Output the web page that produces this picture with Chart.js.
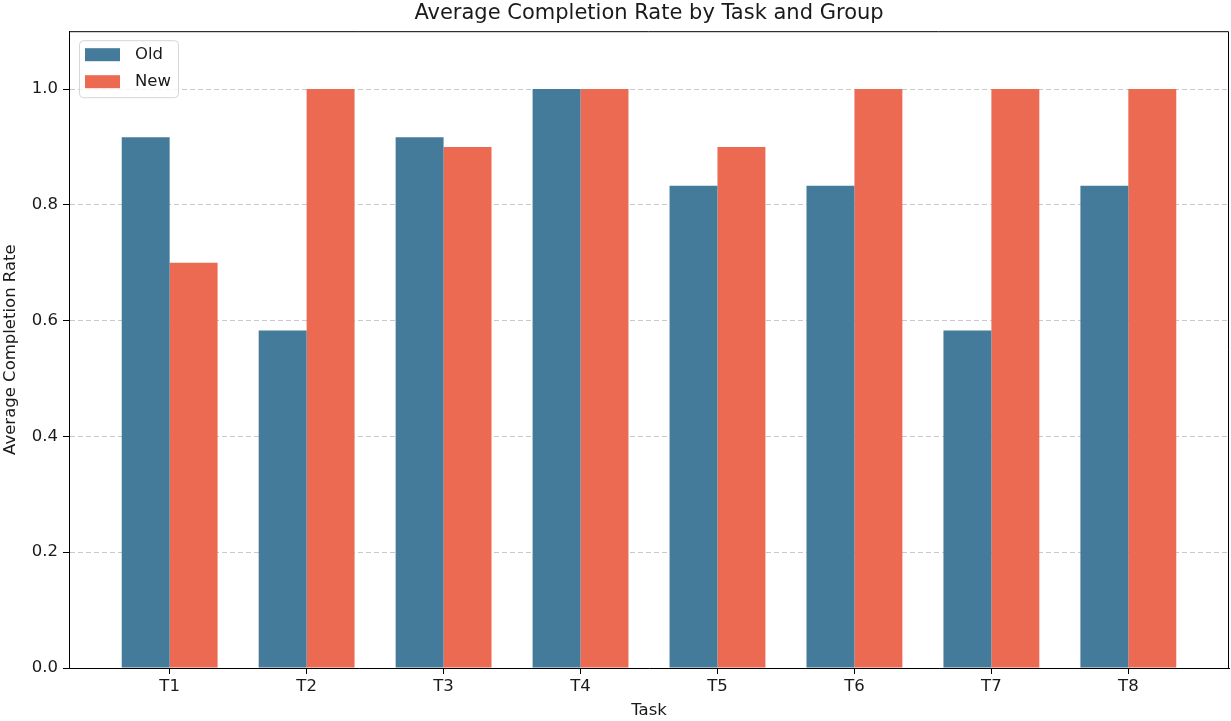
<!DOCTYPE html>
<html lang="en">
<head>
    <meta charset="UTF-8">
    <title>Average Completion Rate by Task and Group</title>
    <script src="https://cdn.jsdelivr.net/npm/chart.js"></script>
    <style>
        html, body {
            margin: 0;
            padding: 0;
            background: #fff;
        }
        #wrap {
            width: 1231px;
            height: 721px;
        }
    </style>
</head>
<body>
    <div id="wrap"><canvas id="rateChart"></canvas></div>

    <script>
        // data
        const tasks = ['T1', 'T2', 'T3', 'T4', 'T5', 'T6', 'T7', 'T8'];
        const oldRates = [0.917, 0.583, 0.917, 1.0, 0.833, 0.833, 0.583, 0.833];
        const newRates = [0.7, 1.0, 0.9, 1.0, 0.9, 1.0, 1.0, 1.0];
        const yTicks = [0, 0.2, 0.4, 0.6, 0.8, 1.0];

        const oldColor = '#447b9b';
        const newColor = '#ec6952';
        const textColor = '#1a1a1a';

        Chart.defaults.font.family = "'DejaVu Sans', sans-serif";
        Chart.defaults.color = textColor;

        // matplotlib style frame + legend inside the axes
        const framePlugin = {
            id: 'frame',
            afterDraw(chart) {
                const { ctx, chartArea: a } = chart;
                ctx.save();
                ctx.strokeStyle = '#000';
                ctx.lineWidth = 1;
                ctx.beginPath();
                ctx.moveTo(a.left, a.top + 0.5);
                ctx.lineTo(a.right - 0.5, a.top + 0.5);
                ctx.lineTo(a.right - 0.5, a.bottom);
                ctx.stroke();

                // legend
                const bx = a.left + 10, by = a.top + 9;
                ctx.beginPath();
                ctx.roundRect(bx + 0.5, by + 0.5, 99, 57, 4);
                ctx.fillStyle = 'rgba(255,255,255,0.8)';
                ctx.fill();
                ctx.strokeStyle = '#d6d6d6';
                ctx.stroke();
                ctx.font = "16.5px 'DejaVu Sans'";
                ctx.textBaseline = 'middle';
                chart.data.datasets.forEach((ds, i) => {
                    const y = by + 8 + i * 27;
                    ctx.fillStyle = ds.backgroundColor;
                    ctx.fillRect(bx + 6, y, 35, 13);
                    ctx.fillStyle = textColor;
                    ctx.fillText(ds.label, bx + 56, y + 7);
                });
                ctx.restore();
            }
        };

        const ctx = document.getElementById('rateChart').getContext('2d');
        const rateChart = new Chart(ctx, {
            type: 'bar',
            data: {
                datasets: [{
                    label: 'Old',
                    data: oldRates.map((v, i) => ({ x: i, y: v })),
                    backgroundColor: oldColor,
                    borderWidth: 0
                }, {
                    label: 'New',
                    data: newRates.map((v, i) => ({ x: i, y: v })),
                    backgroundColor: newColor,
                    borderWidth: 0
                }]
            },
            options: {
                responsive: true,
                maintainAspectRatio: false,
                animation: false,
                categoryPercentage: 0.7,
                barPercentage: 1.0,
                layout: {
                    padding: { left: 0, right: 2, top: 0, bottom: 0 }
                },
                plugins: {
                    legend: { display: false },
                    tooltip: { enabled: false },
                    title: {
                        display: true,
                        text: 'Average Completion Rate by Task and Group',
                        fullSize: false,
                        color: textColor,
                        font: { size: 21, weight: 'normal' },
                        padding: { top: 1, bottom: 5 }
                    }
                },
                scales: {
                    x: {
                        type: 'linear',
                        min: -0.735,
                        max: 7.735,
                        offset: false,
                        afterBuildTicks: axis => {
                            axis.ticks = tasks.map((t, i) => ({ value: i }));
                        },
                        afterFit: scale => { scale.height = 53; },
                        ticks: {
                            autoSkip: false,
                            maxRotation: 0,
                            padding: 3,
                            font: { size: 16.5 },
                            callback: value => tasks[value]
                        },
                        grid: {
                            offset: false,
                            drawOnChartArea: false,
                            drawTicks: true,
                            tickLength: 6,
                            tickColor: '#000'
                        },
                        border: { color: '#000', width: 1 },
                        title: {
                            display: true,
                            text: 'Task',
                            font: { size: 16.5 },
                            padding: { top: 0, bottom: 0 }
                        }
                    },
                    y: {
                        min: 0,
                        max: 1.1,
                        afterBuildTicks: axis => {
                            axis.ticks = yTicks.map(v => ({ value: v }));
                        },
                        afterFit: scale => { scale.width = 69; },
                        ticks: {
                            padding: 5,
                            font: { size: 16.5 },
                            callback: value => value.toFixed(1)
                        },
                        grid: {
                            color: '#c9c9c9',
                            lineWidth: 1,
                            tickLength: 6,
                            tickColor: '#000'
                        },
                        border: { color: '#000', width: 1, dash: [5, 3] },
                        title: {
                            display: true,
                            text: 'Average Completion Rate',
                            font: { size: 16.5 },
                            padding: { top: 1, bottom: 0 }
                        }
                    }
                }
            },
            plugins: [framePlugin]
        });
    </script>
</body>
</html>
